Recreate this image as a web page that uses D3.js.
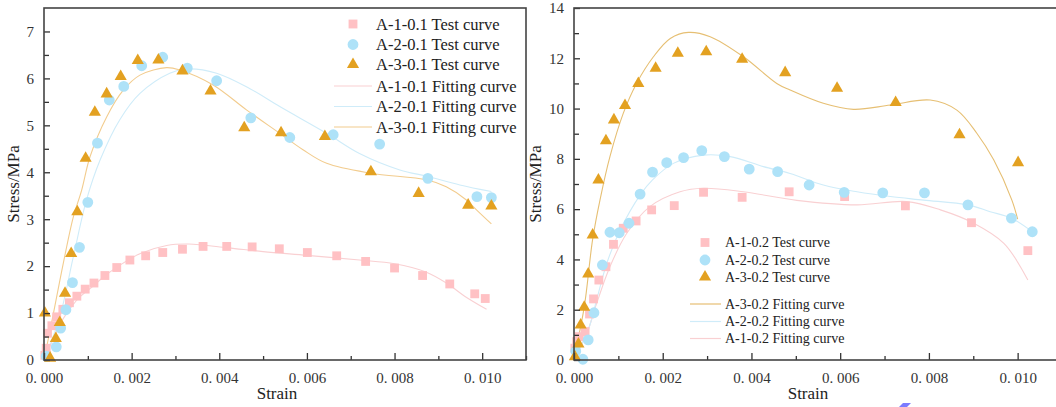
<!DOCTYPE html>
<html>
<head>
<meta charset="utf-8">
<script src="https://cdn.jsdelivr.net/npm/d3@7"></script>
<style>
  body { margin: 0; background: #fff; }
  svg text { font-family: "Liberation Serif", "Times New Roman", "DejaVu Serif", serif !important; fill: #222; }
</style>
</head>
<body>
<svg id="vis"></svg>
<script>
// Datos: [strain, stress]
const a1_01_test = [[0.00002,0.10],[0.00005,0.25],[0.00008,0.57],[0.00018,0.73],[0.00029,0.92],[0.00043,1.08],[0.00058,1.22],[0.00075,1.36],[0.00094,1.51],[0.00114,1.64],[0.00139,1.80],[0.00166,1.97],[0.00196,2.13],[0.00232,2.22],[0.00271,2.29],[0.00316,2.36],[0.00363,2.42],[0.00417,2.42],[0.00475,2.41],[0.00537,2.37],[0.00601,2.29],[0.00668,2.22],[0.00734,2.10],[0.00800,1.96],[0.00864,1.80],[0.00926,1.62],[0.00983,1.41],[0.01007,1.31]];
const a2_01_test = [[0.00005,0.08],[0.00028,0.28],[0.00038,0.68],[0.00050,1.07],[0.00065,1.65],[0.00081,2.40],[0.00100,3.36],[0.00122,4.62],[0.00149,5.54],[0.00182,5.83],[0.00223,6.27],[0.00271,6.45],[0.00327,6.22],[0.00394,5.95],[0.00472,5.16],[0.00561,4.74],[0.00660,4.80],[0.00766,4.60],[0.00876,3.87],[0.00988,3.48],[0.01021,3.46]];
const a3_01_test = [[0.00002,1.00],[0.00014,0.04],[0.00027,0.46],[0.00036,0.80],[0.00048,1.42],[0.00062,2.27],[0.00076,3.16],[0.00095,4.30],[0.00116,5.28],[0.00143,5.67],[0.00175,6.04],[0.00214,6.38],[0.00261,6.39],[0.00316,6.16],[0.00380,5.73],[0.00457,4.95],[0.00541,4.84],[0.00641,4.76],[0.00746,4.01],[0.00855,3.55],[0.00968,3.30],[0.01021,3.28]];
const a1_01_fit = [[0,0.05],[0.0002,0.42],[0.0004,0.82],[0.0006,1.10],[0.0008,1.33],[0.0011,1.56],[0.0014,1.80],[0.0017,2.00],[0.0022,2.27],[0.0028,2.44],[0.0033,2.47],[0.0042,2.39],[0.005,2.31],[0.006,2.23],[0.0072,2.13],[0.008,2.05],[0.0087,1.88],[0.0092,1.63],[0.0096,1.36],[0.0101,1.08]];
const a2_01_fit = [[0,0],[0.00036,0.92],[0.00067,2.2],[0.00097,3.41],[0.00128,4.26],[0.00173,5.12],[0.00219,5.68],[0.00287,6.11],[0.00325,6.20],[0.00394,6.11],[0.0047,5.78],[0.00538,5.40],[0.00645,4.83],[0.0072,4.40],[0.00812,4.05],[0.00876,3.91],[0.00949,3.73],[0.01021,3.59]];
const a3_01_fit = [[0,0],[0.0002,0.92],[0.00044,2.06],[0.00067,3.05],[0.00086,3.62],[0.00105,4.33],[0.00143,5.18],[0.00181,5.75],[0.00219,6.07],[0.0028,6.23],[0.0031,6.18],[0.00386,5.86],[0.00462,5.33],[0.00538,4.83],[0.00591,4.48],[0.00645,4.19],[0.00746,3.98],[0.00873,3.84],[0.00918,3.69],[0.00964,3.41],[0.00987,3.20],[0.01021,2.90]];

const a1_02_test = [[0.00002,0.47],[0.00006,0.73],[0.00012,0.93],[0.00025,1.13],[0.00035,1.83],[0.00044,2.43],[0.00056,3.18],[0.00072,3.71],[0.00089,4.60],[0.00111,5.24],[0.0014,5.53],[0.00175,5.97],[0.00226,6.14],[0.00292,6.67],[0.00379,6.47],[0.00485,6.69],[0.0061,6.50],[0.00747,6.13],[0.00896,5.46],[0.01023,4.35]];
const a2_02_test = [[0.00004,0.35],[0.0002,0.03],[0.00032,0.80],[0.00045,1.88],[0.00064,3.78],[0.00081,5.08],[0.00102,5.06],[0.00124,5.44],[0.00149,6.60],[0.00177,7.47],[0.00209,7.85],[0.00247,8.05],[0.00288,8.33],[0.00339,8.09],[0.00395,7.59],[0.00459,7.49],[0.0053,6.96],[0.00609,6.67],[0.00696,6.65],[0.0079,6.65],[0.00888,6.17],[0.00986,5.64],[0.01033,5.10]];
const a3_02_test = [[0.00002,0.13],[0.0001,0.64],[0.00015,1.39],[0.00023,2.10],[0.00032,3.42],[0.00042,4.97],[0.00055,7.16],[0.00072,8.72],[0.0009,9.55],[0.00115,10.12],[0.00145,11.0],[0.00184,11.6],[0.00234,12.2],[0.00298,12.26],[0.00379,11.96],[0.00476,11.43],[0.00593,10.81],[0.00725,10.24],[0.00869,8.96],[0.01001,7.85]];
const a1_02_fit = [[0,0.05],[0.00029,1.06],[0.00051,2.25],[0.00081,3.71],[0.00119,5.04],[0.00171,6.10],[0.00239,6.69],[0.00292,6.83],[0.00382,6.69],[0.00502,6.35],[0.00638,6.17],[0.0075,6.30],[0.00826,5.97],[0.00901,5.44],[0.00969,4.64],[0.01023,3.18]];
const a2_02_fit = [[0,0.05],[0.00032,1.19],[0.00051,2.39],[0.00074,3.85],[0.00104,5.17],[0.00149,6.56],[0.00177,7.16],[0.00224,7.82],[0.00292,8.15],[0.00352,8.09],[0.00427,7.69],[0.00487,7.42],[0.00562,6.96],[0.00638,6.69],[0.00713,6.50],[0.00788,6.36],[0.00888,6.17],[0.00938,5.90],[0.00986,5.64],[0.01033,5.10]];
const a3_02_fit = [[0,0.07],[0.00023,2.1],[0.00042,4.8],[0.00059,6.4],[0.00081,8.09],[0.00111,9.81],[0.00141,11.0],[0.00179,12.06],[0.00217,12.79],[0.00258,13.03],[0.00307,12.86],[0.00382,12.06],[0.00457,11.0],[0.00487,10.74],[0.00562,10.21],[0.0063,9.97],[0.00713,10.14],[0.00803,10.34],[0.00863,9.94],[0.00908,9.02],[0.00946,7.96],[0.00987,6.36],[0.01,5.6]];

const xTicks = [0, 0.002, 0.004, 0.006, 0.008, 0.010];
const yTicksLeft = [0, 1, 2, 3, 4, 5, 6, 7];
const yTicksRight = [0, 2, 4, 6, 8, 10, 12, 14];
const legendLeft = ["A-1-0.1 Test curve", "A-2-0.1 Test curve", "A-3-0.1 Test curve", "A-1-0.1 Fitting curve", "A-2-0.1 Fitting curve", "A-3-0.1 Fitting curve"];
const legendRight = ["A-1-0.2 Test curve", "A-2-0.2 Test curve", "A-3-0.2 Test curve", "A-3-0.2 Fitting curve", "A-2-0.2 Fitting curve", "A-1-0.2 Fitting curve"];

const WIDTH = 1056;
const HEIGHT = 407;
const FONT = "'Liberation Serif', 'Times New Roman', serif";

const COLOR = {
    pink: "#ffc1c4",
    blue: "#aee2f8",
    gold: "#e3a121",
    pinkLine: "#f9d0d2",
    blueLine: "#cfecf9",
    goldLine: "#f2cc8e",
    goldLine2: "#e6bf73",
};

const svg = d3.select("#vis")
    .attr("width", WIDTH)
    .attr("height", HEIGHT)
    .attr("font-family", FONT);

const simbolos = {
    square: d3.symbol().type(d3.symbolSquare).size(78),
    circle: d3.symbol().type(d3.symbolCircle).size(92),
    triangle: d3.symbol().type(d3.symbolTriangle).size(64),
};

const fmt = d => d3.format(".3f")(d).replace(".", ". ");

function panel(cfg) {
    const g = svg.append("g");
    const x = d3.scaleLinear().domain([0, 0.011]).range([cfg.left, cfg.right]);
    const y = d3.scaleLinear().domain([0, cfg.yMax]).range([cfg.bottom, cfg.top]);

    // Curvas de ajuste
    const linea = d3.line().x(d => x(d[0])).y(d => y(d[1])).curve(d3.curveCatmullRom.alpha(0.5));
    cfg.fits.forEach(f => {
        g.append("path").datum(f.data)
            .attr("fill", "none")
            .attr("stroke", f.color)
            .attr("stroke-width", 1.1)
            .attr("d", linea);
    });

    // Puntos de ensayo
    cfg.tests.forEach(t => {
        g.append("g").selectAll("path")
            .data(t.data)
            .join("path")
            .attr("fill", t.color)
            .attr("transform", d => `translate(${x(d[0])},${y(d[1])})`)
            .attr("d", simbolos[t.shape]);
    });

    // Ejes (ticks hacia adentro)
    const ejeX = d3.axisBottom(x).tickValues(xTicks).tickSizeInner(-7).tickSizeOuter(0).tickPadding(12).tickFormat(fmt);
    const gx = g.append("g").attr("transform", `translate(0,${cfg.bottom})`).call(ejeX);
    const ejeXmin = d3.axisBottom(x).tickValues(xTicks.map(v => v + 0.001)).tickSize(-4).tickFormat("");
    const gxm = g.append("g").attr("transform", `translate(0,${cfg.bottom})`).call(ejeXmin);

    const ejeY = d3.axisLeft(y).tickValues(cfg.yTicks).tickSizeInner(-6).tickSizeOuter(0).tickPadding(10).tickFormat(d3.format("d"));
    const gy = g.append("g").attr("transform", `translate(${cfg.left},0)`).call(ejeY);
    const step = cfg.yTicks[1] - cfg.yTicks[0];
    const ejeYmin = d3.axisLeft(y).tickValues(cfg.yTicks.map(v => v + step / 2).filter(v => v < cfg.yMax)).tickSize(-5).tickFormat("");
    const gym = g.append("g").attr("transform", `translate(${cfg.left},0)`).call(ejeYmin);

    [gx, gxm, gy, gym].forEach(a => {
        a.attr("font-family", FONT);
        a.select(".domain").remove();
        a.selectAll("line").attr("stroke", "#333").attr("stroke-width", 1.3);
        a.selectAll("text").attr("font-size", 15).style("fill", "#333");
    });

    // Marco
    g.append("rect")
        .attr("x", cfg.left).attr("y", cfg.top)
        .attr("width", cfg.right - cfg.left).attr("height", cfg.bottom - cfg.top)
        .attr("fill", "none").attr("stroke", "#444").attr("stroke-width", 1.6);

    // Nombres ejes
    g.append("text")
        .attr("x", cfg.xLabel).attr("y", 399)
        .attr("text-anchor", "middle").attr("font-size", 17)
        .text("Strain");
    g.append("text")
        .attr("transform", `translate(${cfg.yLabel},${184}) rotate(-90)`)
        .attr("text-anchor", "middle").attr("font-size", 17)
        .text("Stress/MPa");

    // Leyenda
    const L = cfg.legend;
    L.items.forEach((it, i) => {
        const yy = L.ys[i];
        if (it.shape) {
            g.append("path").attr("fill", it.color)
                .attr("transform", `translate(${L.mx},${yy})`)
                .attr("d", simbolos[it.shape]);
        } else {
            g.append("line")
                .attr("x1", L.lx1).attr("x2", L.lx2).attr("y1", yy).attr("y2", yy)
                .attr("stroke", it.color).attr("stroke-width", 1.2);
        }
        g.append("text").attr("x", L.tx).attr("y", yy)
            .attr("dy", "0.35em").attr("font-size", L.size)
            .text(it.label);
    });
}

panel({
    left: 44, right: 526, top: 8, bottom: 360, yMax: 7.5, yTicks: yTicksLeft,
    xLabel: 277, yLabel: 19,
    tests: [
        { data: a1_01_test, color: COLOR.pink, shape: "square" },
        { data: a2_01_test, color: COLOR.blue, shape: "circle" },
        { data: a3_01_test, color: COLOR.gold, shape: "triangle" },
    ],
    fits: [
        { data: a1_01_fit, color: COLOR.pinkLine },
        { data: a2_01_fit, color: COLOR.blueLine },
        { data: a3_01_fit, color: COLOR.goldLine },
    ],
    legend: {
        mx: 353, lx1: 334, lx2: 372, tx: 376, size: 16.5,
        ys: [24, 44.5, 64.5, 86, 106.5, 127],
        items: [
            { label: legendLeft[0], color: COLOR.pink, shape: "square" },
            { label: legendLeft[1], color: COLOR.blue, shape: "circle" },
            { label: legendLeft[2], color: COLOR.gold, shape: "triangle" },
            { label: legendLeft[3], color: COLOR.pinkLine },
            { label: legendLeft[4], color: COLOR.blueLine },
            { label: legendLeft[5], color: COLOR.goldLine },
        ],
    },
});

panel({
    left: 574, right: 1062, top: 8, bottom: 360, yMax: 14, yTicks: yTicksRight,
    xLabel: 808, yLabel: 541,
    tests: [
        { data: a1_02_test, color: COLOR.pink, shape: "square" },
        { data: a2_02_test, color: COLOR.blue, shape: "circle" },
        { data: a3_02_test, color: COLOR.gold, shape: "triangle" },
    ],
    fits: [
        { data: a1_02_fit, color: COLOR.pinkLine },
        { data: a2_02_fit, color: COLOR.blueLine },
        { data: a3_02_fit, color: COLOR.goldLine2 },
    ],
    legend: {
        mx: 705, lx1: 690, lx2: 721, tx: 725, size: 14,
        ys: [242.5, 260, 277, 304, 321.5, 338.5],
        items: [
            { label: legendRight[0], color: COLOR.pink, shape: "square" },
            { label: legendRight[1], color: COLOR.blue, shape: "circle" },
            { label: legendRight[2], color: COLOR.gold, shape: "triangle" },
            { label: legendRight[3], color: COLOR.goldLine2 },
            { label: legendRight[4], color: COLOR.blueLine },
            { label: legendRight[5], color: COLOR.pinkLine },
        ],
    },
});

// pequeña marca azul bajo el eje derecho
svg.append("path").attr("d", "M899,407 L903,403 L911,403 L907,407 Z").attr("fill", "#7b7bff");
</script>
</body>
</html>
